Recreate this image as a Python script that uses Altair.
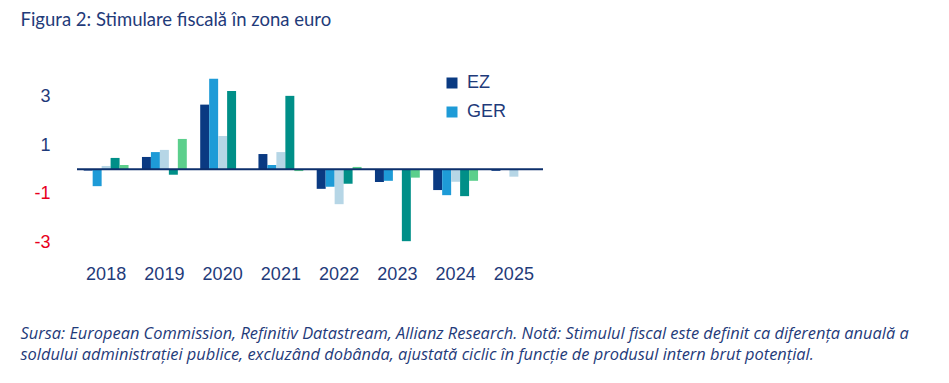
import altair as alt
import pandas as pd

years = ["2018", "2019", "2020", "2021", "2022", "2023", "2024", "2025"]
series = ["EZ", "GER", "FRA", "ITA", "ESP"]
ez = [-0.05, 0.51, 2.66, 0.63, -0.80, -0.52, -0.85, -0.06]
ger = [-0.69, 0.71, 3.72, 0.18, -0.71, -0.47, -1.06, 0.0]
fra = [0.14, 0.80, 1.37, 0.71, -1.43, 0.0, -0.51, -0.30]
ita = [0.47, -0.22, 3.22, 3.02, -0.59, -2.95, -1.10, 0.0]
esp = [0.18, 1.25, 0.0, -0.07, 0.10, -0.34, -0.47, 0.0]
colors = ["#0a3a82", "#1e9bd7", "#b6d6e6", "#008f88", "#5ccf8c"]
y_ticks = [3, 1, -1, -3]

title_text = "Figura 2: Stimulare fiscală în zona euro"
note_lines = [
    "Sursa: European Commission, Refinitiv Datastream, Allianz Research. Notă: Stimulul fiscal este definit ca diferența anuală a",
    "soldului administrației publice, excluzând dobânda, ajustată ciclic în funcție de produsul intern brut potențial.",
]

rows = []
for s, vals in zip(series, [ez, ger, fra, ita, esp]):
    for y, v in zip(years, vals):
        rows.append({"year": y, "series": s, "value": v})
df = pd.DataFrame(rows)

navy = "#1f3b7a"

bars = alt.Chart(df).mark_bar().encode(
    x=alt.X("year:N", sort=years,
            scale=alt.Scale(paddingInner=0.23, paddingOuter=0.115),
            axis=alt.Axis(title=note_lines, labelAngle=0, labelFont="Liberation Sans",
                          labelFontSize=18, labelColor=navy, labelPadding=8,
                          domain=False, ticks=False,
                          titleFont="Open Sans", titleFontStyle="italic", titleFontWeight="normal",
                          titleFontSize=16.4, titleColor=navy, titleAlign="left",
                          titleAnchor="start", titleBaseline="alphabetic",
                          titleX=-57, titleY=81, titleLineHeight=21)),
    xOffset=alt.XOffset("series:N", sort=series, scale=alt.Scale(paddingInner=0, paddingOuter=0)),
    y=alt.Y("value:Q", scale=alt.Scale(domain=[-3.6, 4], nice=False, zero=False),
            axis=alt.Axis(values=y_ticks, grid=False, domain=False, ticks=False,
                          labelFont="Liberation Sans", labelFontSize=18,
                          labelExpr="'' + datum.value",
                          labelColor=alt.ExprRef("datum.value < 0 ? '#e8001c' : '" + navy + "'"),
                          labelPadding=27,
                          title=title_text, titleAngle=0, titleFont="Lato",
                          titleFontWeight="normal", titleFontSize=18.5, titleColor=navy,
                          titleAlign="left", titleBaseline="alphabetic",
                          titleX=-57, titleY=-47)),
    color=alt.Color("series:N", sort=series,
                    scale=alt.Scale(domain=series, range=colors),
                    legend=alt.Legend(values=["EZ", "GER"], title=None, orient="none",
                                      legendX=366, legendY=2, symbolType="square",
                                      symbolSize=121, symbolStrokeWidth=0,
                                      labelFont="Liberation Sans", labelFontSize=18,
                                      labelColor=navy, labelOffset=6, rowPadding=11,
                                      padding=0)),
)

zero = alt.Chart(pd.DataFrame({"z": [0]})).mark_rule(color="#0d2f6b", strokeWidth=2).encode(
    y=alt.Y("z:Q")
)

chart = alt.layer(bars, zero).properties(
    width=466, height=185,
    autosize=alt.AutoSizeParams(type="none"),
    padding={"left": 69, "top": 64, "right": 398, "bottom": 118},
).configure_view(stroke=None)

chart.save("out.html", embed_options={"renderer": "svg", "actions": False})
